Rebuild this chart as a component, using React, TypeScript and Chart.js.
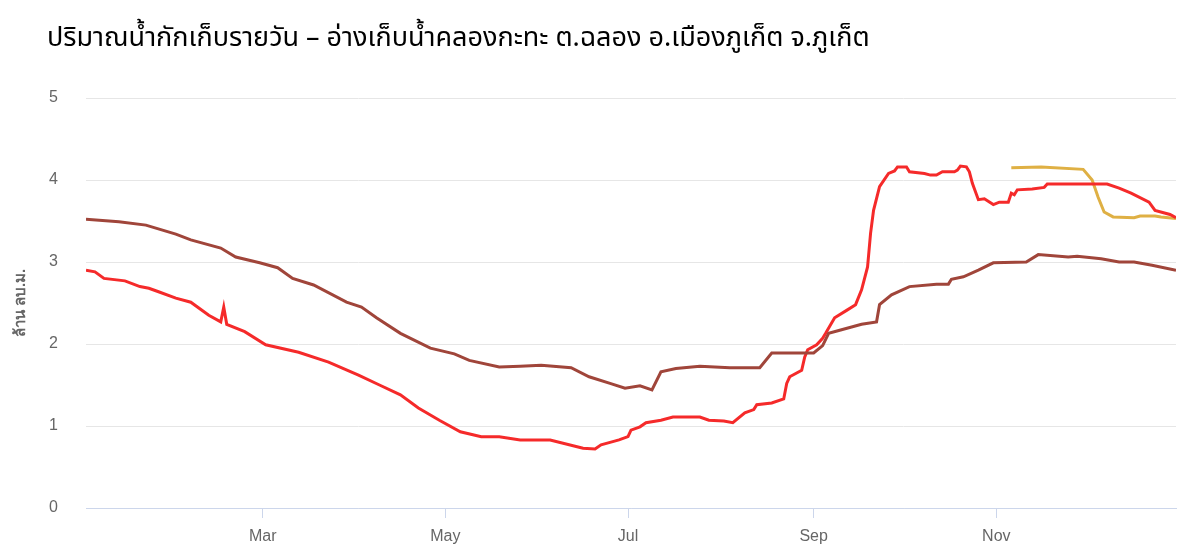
import React, { useEffect, useRef } from "react";
import { Chart, registerables } from "chart.js";

Chart.register(...registerables);

const titleText = "ปริมาณน้ำกักเก็บรายวัน – อ่างเก็บน้ำคลองกะทะ ต.ฉลอง อ.เมืองภูเก็ต จ.ภูเก็ต";
const yAxisTitle = "ล้าน ลบ.ม.";

const tickDays = [59, 120, 181, 243, 304];
const tickLabels = ["Mar", "May", "Jul", "Sep", "Nov"];

const brownDays = [0, 11, 20, 30, 35, 45, 50, 58, 64, 69, 76, 87, 92, 97, 105, 115, 123, 128, 138, 145, 152, 162, 168, 175, 180, 185, 189, 192, 197, 205, 215, 225, 229, 243, 246, 248, 252, 259, 264, 265, 269, 275, 284, 288, 289, 293, 298, 303, 314, 318, 328, 331, 339, 345, 350, 356, 364];
const brownValues = [3.52, 3.49, 3.45, 3.34, 3.27, 3.17, 3.06, 2.99, 2.93, 2.8, 2.72, 2.51, 2.45, 2.32, 2.13, 1.95, 1.88, 1.8, 1.72, 1.73, 1.74, 1.71, 1.6, 1.52, 1.46, 1.49, 1.44, 1.66, 1.7, 1.73, 1.71, 1.71, 1.89, 1.89, 1.98, 2.13, 2.17, 2.24, 2.27, 2.48, 2.6, 2.7, 2.73, 2.73, 2.79, 2.82, 2.9, 2.99, 3.0, 3.09, 3.06, 3.07, 3.04, 3.0, 3.0, 2.96, 2.9];

const redDays = [0, 3, 6, 13, 18, 21, 24, 30, 35, 41, 45, 46, 47, 53, 60, 71, 81, 91, 98, 105, 111, 118, 125, 132, 138, 145, 155, 166, 170, 172, 175, 178, 181, 182, 185, 187, 192, 196, 205, 208, 213, 216, 220, 223, 224, 229, 233, 234, 235, 239, 240, 241, 244, 246, 247, 250, 254, 257, 259, 261, 262, 263, 265, 268, 270, 271, 274, 275, 280, 282, 284, 286, 290, 291, 292, 294, 295, 296, 298, 300, 303, 305, 308, 309, 310, 311, 316, 320, 321, 341, 345, 349, 355, 357, 362, 364];
const redValues = [2.9, 2.88, 2.8, 2.77, 2.7, 2.68, 2.64, 2.56, 2.51, 2.35, 2.27, 2.45, 2.24, 2.15, 1.99, 1.9, 1.78, 1.62, 1.5, 1.38, 1.22, 1.07, 0.93, 0.87, 0.87, 0.83, 0.83, 0.73, 0.72, 0.77, 0.8, 0.83, 0.87, 0.95, 0.99, 1.04, 1.07, 1.11, 1.11, 1.07, 1.06, 1.04, 1.16, 1.2, 1.26, 1.28, 1.33, 1.52, 1.6, 1.68, 1.84, 1.93, 1.99, 2.07, 2.13, 2.32, 2.41, 2.48, 2.66, 2.94, 3.35, 3.63, 3.92, 4.08, 4.11, 4.16, 4.16, 4.1, 4.08, 4.06, 4.06, 4.1, 4.1, 4.12, 4.17, 4.16, 4.1, 3.96, 3.76, 3.77, 3.7, 3.73, 3.73, 3.84, 3.82, 3.88, 3.89, 3.91, 3.95, 3.95, 3.9, 3.84, 3.73, 3.63, 3.58, 3.54];

const yellowDays = [309, 319, 333, 336, 338, 340, 343, 350, 352, 357, 359, 364];
const yellowValues = [4.15, 4.16, 4.13, 4.0, 3.79, 3.61, 3.55, 3.54, 3.56, 3.56, 3.55, 3.53];

const toPoints = (days: number[], vals: number[]) => days.map((d, i) => ({ x: d, y: vals[i] }));

const tickFont = { family: "'Liberation Sans Narrow', 'Liberation Sans', sans-serif", size: 16 };

export default function App() {
  const ref = useRef<HTMLCanvasElement>(null);
  useEffect(() => {
    if (!ref.current) return;
    const chart = new Chart(ref.current, {
      type: "line",
      data: {
        datasets: [
          { data: toPoints(brownDays, brownValues), borderColor: "#a0453a", borderWidth: 3, pointRadius: 0, tension: 0 },
          { data: toPoints(redDays, redValues), borderColor: "#f52a2a", borderWidth: 3, pointRadius: 0, tension: 0 },
          { data: toPoints(yellowDays, yellowValues), borderColor: "#dfb044", borderWidth: 3, pointRadius: 0, tension: 0 },
        ],
      },
      options: {
        responsive: false,
        animation: false,
        layout: { padding: { top: 98, right: 15, bottom: 0, left: 0 } },
        plugins: { legend: { display: false }, title: { display: false }, tooltip: { enabled: false } },
        scales: {
          x: {
            type: "linear",
            min: 0,
            max: 364,
            afterBuildTicks: (axis: any) => {
              axis.ticks = tickDays.map((v) => ({ value: v }));
            },
            afterFit: (s: any) => {
              s.height = 45;
            },
            ticks: {
              autoSkip: false,
              maxRotation: 0,
              padding: 9,
              color: "#666666",
              font: tickFont,
              callback: (value: any) => {
                const i = tickDays.indexOf(Number(value));
                return i >= 0 ? tickLabels[i] : "";
              },
            },
            grid: { drawOnChartArea: false, drawTicks: true, tickLength: 10, color: "#ccd6eb" },
            border: { display: true, color: "#ccd6eb", width: 1 },
          },
          y: {
            min: 0,
            max: 5,
            afterFit: (s: any) => {
              s.width = 86;
            },
            ticks: { stepSize: 1, padding: 28, color: "#666666", font: tickFont },
            grid: { color: "#e6e6e6", drawTicks: false },
            border: { display: false },
            title: {
              display: true,
              text: yAxisTitle,
              color: "#666666",
              font: { family: "'Liberation Sans Narrow', 'Liberation Sans', sans-serif", size: 15, weight: "bold" },
              padding: { top: 12, bottom: 0 },
            },
          },
        },
      },
    } as any);
    return () => chart.destroy();
  }, []);
  return (
    <div style={{ position: "fixed", left: 0, top: 0, width: 1191, height: 553, background: "#fff" }}>
      <div
        style={{
          position: "absolute",
          left: 47,
          top: 19,
          fontFamily: "'Noto Sans Thai', 'Noto Sans', sans-serif",
          fontSize: 27,
          color: "#000",
          whiteSpace: "nowrap",
          lineHeight: "38px",
        }}
      >
        {titleText}
      </div>
      <canvas ref={ref} width={1191} height={553} style={{ display: "block" }} />
    </div>
  );
}
